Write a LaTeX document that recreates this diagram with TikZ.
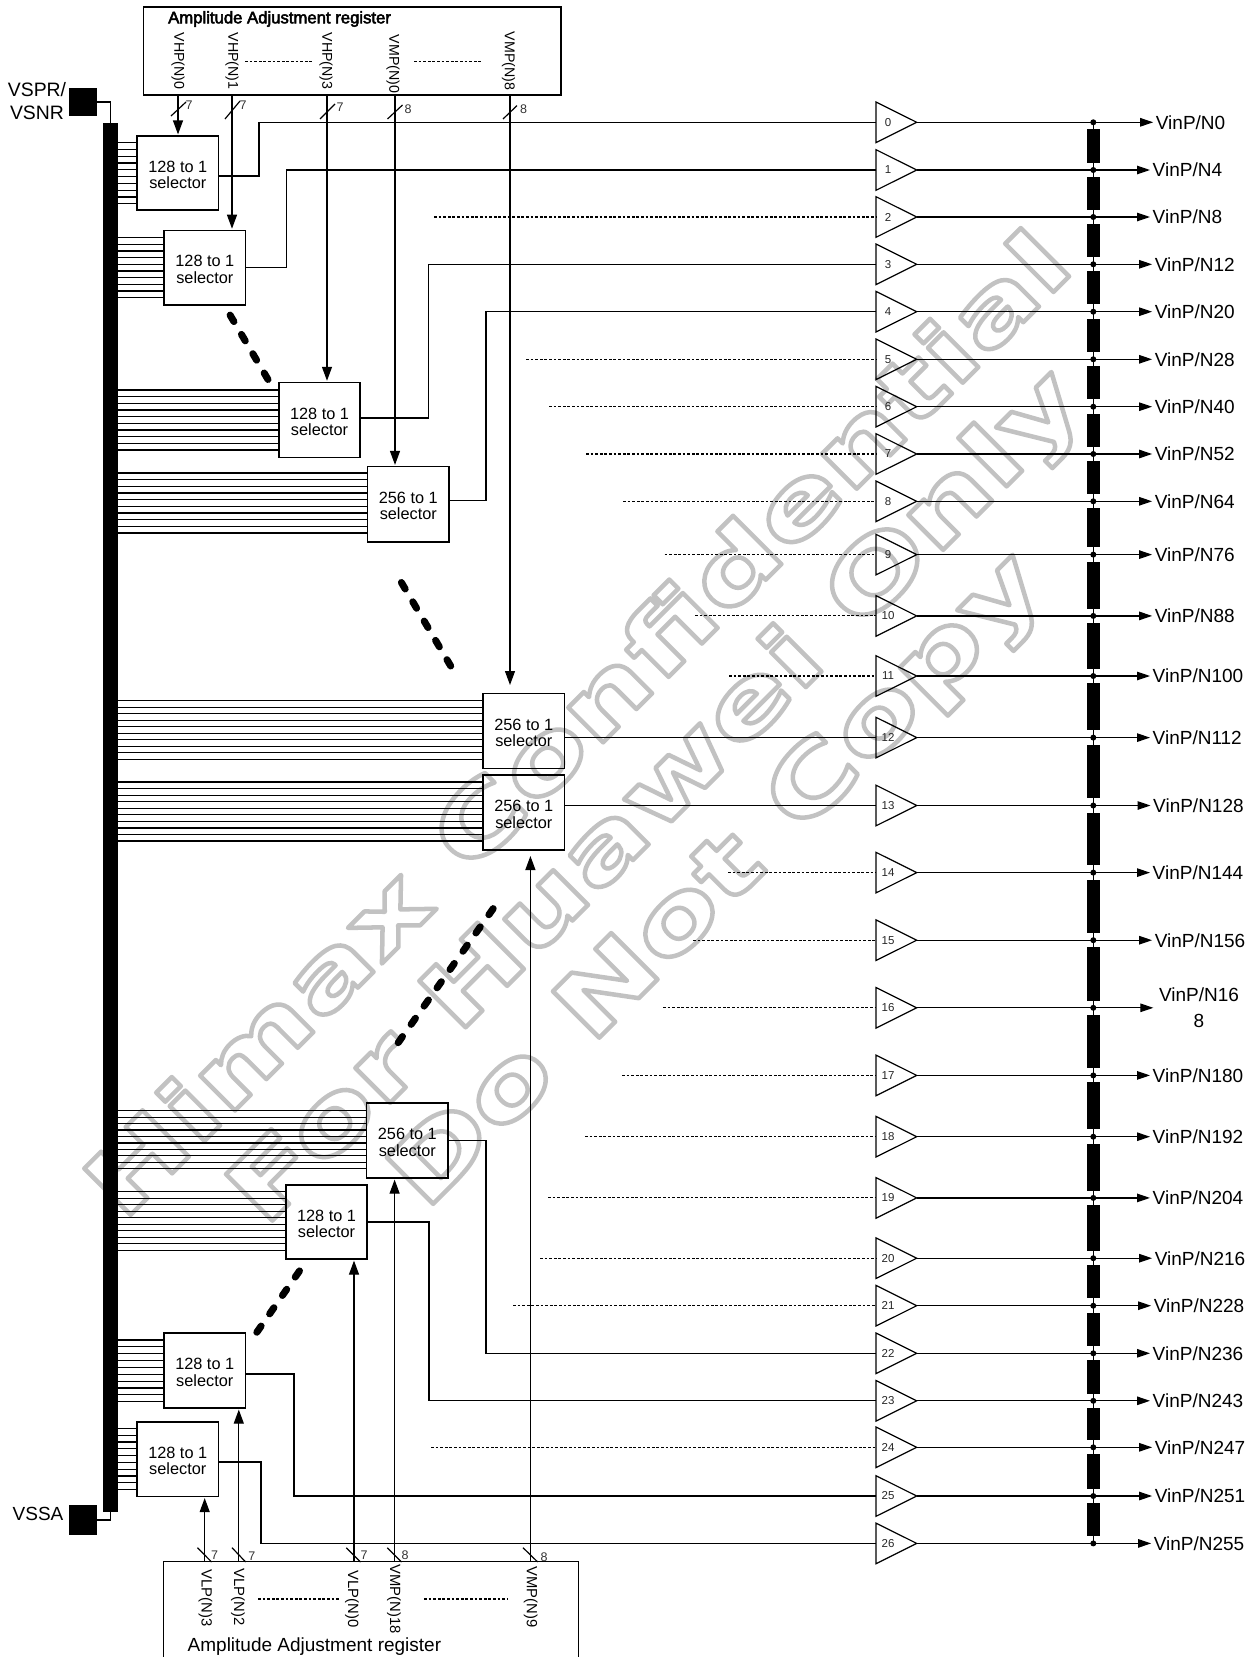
\documentclass[tikz,border=0pt]{standalone}
\usepackage{fontspec}
\setmainfont{Liberation Sans}
\newfontfamily\wmfont[FakeStretch=1.4]{DejaVu Sans}
\usetikzlibrary{arrows.meta,calc}
\newcommand{\fs}[1]{\fontsize{#1}{#1}\selectfont}
\newcommand{\hollow}[1]{\special{pdf:code 1 Tr 4.5 w 1 j 1 J 0.76 G}#1\special{pdf:code 0 Tr}}
\newcommand{\heavy}[1]{\special{pdf:code 2 Tr 0.5 w}#1\special{pdf:code 0 Tr}}
\tikzset{
  ln/.style={line width=1.2pt},
  selbox/.style={draw,line width=1.2pt,inner sep=0pt,align=center,font=\fs{16.3}},
  arr/.style={ln,-{Triangle[width=10pt,length=14pt]},shorten >=1pt},
  outarr/.style={ln,-{Triangle[width=8.5pt,length=13pt]}},
  dots/.style={line width=1.1pt,dash pattern=on 2.8pt off 1.8pt},
  bigdash/.style={line width=7pt,line cap=round,dash pattern=on 7.5pt off 14.9pt},
  vlabel/.style={rotate=-90,inner sep=0pt},
  tick/.style={font=\fs{12.5},inner sep=0pt,text=black!80},
  wm/.style={rotate=45,anchor=base,inner sep=0pt,font=\wmfont\bfseries\fs{90}},
}
\newcommand{\selbox}[6]{\node[selbox,minimum width=#4pt-#2pt,minimum height=#5pt-#3pt] (#1) at ({(#2+#4)/2},{(#3+#5)/2}) {\rule{0pt}{15pt}#6};}
\begin{document}
\begin{tikzpicture}[x=1pt,y=-1pt]
\useasboundingbox (0,0) rectangle (1255,1657);
% watermark
\node[wm] (wm1) at (599.5,746) {\hollow{Himax Confidential}};
\node[wm] (wm2) at (676,817) {\hollow{For Huawei Only}};
\node[wm] (wm3) at (737,900) {\hollow{Do Not Copy}};
% power bus
\node[fill=black,inner sep=0pt,minimum width=15pt,minimum height=1389pt] (bus) at (110.5,817.5) {};
\node[fill=black,inner sep=0pt,minimum width=28.4pt,minimum height=28pt] (vsp) at (82.8,102) {};
\node[fill=black,inner sep=0pt,minimum width=28pt,minimum height=30pt] (vss) at (83,1520) {};
\draw[ln] (vsp.east) -| (bus.north);
\draw[ln] (vss.east) -| (bus.south);
\node[inner sep=0pt,font=\fs{19.4}] (lvspr) at (37,89.5) {VSPR/};
\node[inner sep=0pt,font=\fs{19.4}] (lvsnr) at (37,112.7) {VSNR};
\node[inner sep=0pt,font=\fs{19}] (lvssa) at (38,1514) {VSSA};
% registers
\node[draw,line width=1.2pt,inner sep=0pt,minimum width=417.5pt,minimum height=88pt] (regT) at (352.3,51) {};
\node[inner sep=0pt,anchor=west,font=\fs{16.7}] (regTt) at (168,19) {\heavy{Amplitude Adjustment register}};
\foreach \n/\x/\y/\t in {a/178/61/VHP(N)0,b/232/61/VHP(N)1,c/326/61/VHP(N)3,d/393/64/VMP(N)0,e/508.6/61/VMP(N)8}
  \node[vlabel,font=\fs{14.2}] (tl\n) at (\x,\y) {\t};
\coordinate (td1a) at (245,61.3); \coordinate (td1b) at (312,61.3);
\coordinate (td2a) at (414,61.3); \coordinate (td2b) at (482,61.3);
\draw[dots] (td1a) -- (td1b); \draw[dots] (td2a) -- (td2b);
\node[inner sep=0pt,minimum width=414pt,minimum height=95pt] (regB) at (371,1609.5) {};
\draw[ln] (regB.south west) -- (regB.north west) -- (regB.north east) -- (regB.south east);
\node[inner sep=0pt,anchor=west,font=\fs{19}] (regBt) at (187.5,1646.7) {Amplitude Adjustment register};
\foreach \n/\x/\y/\t in {a/205.5/1598/VLP(N)3,b/238/1597/VLP(N)2,c/352/1599/VLP(N)0,d/394/1599/VMP(N)18,e/530.8/1597/VMP(N)9}
  \node[vlabel,font=\fs{14.8}] (bl\n) at (\x,\y) {\t};
\coordinate (bd1a) at (258,1599); \coordinate (bd1b) at (340.6,1599);
\coordinate (bd2a) at (424,1599); \coordinate (bd2b) at (508,1599);
\draw[dots] (bd1a) -- (bd1b); \draw[dots] (bd2a) -- (bd2b);
% selectors
\selbox{S1}{137}{136}{218.6}{210}{128 to 1\\selector}
\selbox{S2}{164}{230.3}{245.7}{305}{128 to 1\\selector}
\selbox{S3}{279}{382.4}{360}{457.4}{128 to 1\\selector}
\selbox{S4}{367.6}{466.5}{449}{542}{256 to 1\\selector}
\selbox{S5}{483}{693.7}{564.6}{768.3}{256 to 1\\selector}
\selbox{S6}{483}{775}{564.6}{850}{256 to 1\\selector}
\selbox{S7}{366.7}{1103}{448}{1178}{256 to 1\\selector}
\selbox{S8}{286}{1185}{367}{1259}{128 to 1\\selector}
\selbox{S9}{164}{1333}{245.5}{1408}{128 to 1\\selector}
\selbox{S10}{137}{1422}{218.5}{1496.5}{128 to 1\\selector}
% stub lines
\foreach \s/\a/\b in {S1/142.7/203.7,S2/237.7/297.7,S3/390/450,S4/473/533,S5/700.7/759.3,S6/782/841,S7/1110.7/1168.7,S8/1191.7/1250.3,S9/1340/1401.7,S10/1428.3/1489.7}
  \foreach \k in {0,...,9}
    \draw[ln] (bus.east |- 0,{\a+(\b-\a)*\k/9}) -- (\s.west |- 0,{\a+(\b-\a)*\k/9});
% register arrows, top
\draw[arr] (regT.south -| 178,0) -- (S1.north -| 178,0);
\draw[arr] (regT.south -| 232,0) -- (S2.north -| 232,0);
\draw[arr] (regT.south -| 327,0) -- (S3.north -| 327,0);
\draw[arr] (regT.south -| 395,0) -- (S4.north -| 395,0);
\coordinate (S5tip) at (510,686);
\draw[arr] (regT.south -| 510,0) -- (S5tip);
\foreach \n/\xa/\ya/\xb/\yb/\lx/\ly/\t in {a/171/116/186/102/189/105/7,b/225/119/240/101/243/105/7,c/320/119/335/104/340/107.6/7,d/387.5/119/402.5/105/408/109/8,e/503/119/517/105.6/523.5/109/8}{
  \coordinate (ts\n a) at (\xa,\ya); \coordinate (ts\n b) at (\xb,\yb);
  \draw[ln] (ts\n a) -- (ts\n b);
  \node[tick] (tt\n) at (\lx,\ly) {\t};
}
% register arrows, bottom
\draw[arr] (regB.north -| 204.7,0) -- (S10.south -| 204.7,0);
\draw[arr] (regB.north -| 238.8,0) -- (S9.south -| 238.8,0);
\draw[arr] (regB.north -| 354,0) -- (S8.south -| 354,0);
\draw[arr] (regB.north -| 394.6,0) -- (S7.south -| 394.6,0);
\coordinate (S6tip) at (530.4,855);
\draw[arr] (regB.north -| 530.4,0) -- (S6tip);
\foreach \n/\xa/\xb/\lx/\ly/\t in {a/197.5/211.6/214.7/1555/7,b/232/245.7/251.8/1555.7/7,c/346.3/360.5/364/1555/7,d/387.3/401.5/405/1555/8,e/523/537.7/544/1556.7/8}{
  \coordinate (bs\n a) at (\xa,1547.7); \coordinate (bs\n b) at (\xb,1562);
  \draw[ln] (bs\n a) -- (bs\n b);
  \node[tick] (bt\n) at (\lx,\ly) {\t};
}
% buffers and outputs
\foreach \i/\y/\lx/\t in {0/122.3/1155.7/0,1/170/1152.5/4,2/217/1152.5/8,3/264.3/1154.6/12,4/311.7/1154.6/20,5/359.3/1154.6/28,6/406.7/1154.6/40,7/454/1154.6/52,8/501.3/1154.6/64,9/554.6/1154.6/76,10/615.9/1154.6/88,11/676/1152.5/100,12/737.6/1152.5/112,13/805.5/1153/128,14/872.6/1152.5/144,15/940.2/1154.6/156,17/1075.4/1152.5/180,18/1136.7/1152.5/192,19/1197.9/1152.5/204,20/1258.2/1154.6/216,21/1305.7/1153.6/228,22/1353.3/1152.5/236,23/1400.8/1152.5/243,24/1447.3/1154.6/247,25/1496/1154.6/251,26/1543.4/1153.6/255}{
  \node[inner sep=2.5pt,anchor=west,font=\fs{19}] (L\i) at (\lx-2.5,\y) {VinP/N\t};
}
\node[inner xsep=5.5pt,inner ysep=0pt,align=center,font={\fontsize{19}{25.5}\selectfont}] (L16) at (1199,1007.8) {VinP/N16\\8};
\foreach \i/\y in {0/122.3,1/170,2/217,3/264.3,4/311.7,5/359.3,6/406.7,7/454,8/501.3,9/554.6,10/615.9,11/676,12/737.6,13/805.5,14/872.6,15/940.2,16/1007.8,17/1075.4,18/1136.7,19/1197.9,20/1258.2,21/1305.7,22/1353.3,23/1400.8,24/1447.3,25/1496,26/1543.4}{
  \coordinate (Ti\i) at (876,\y);
  \coordinate (To\i) at (916.7,\y);
  \coordinate (J\i) at (1093.3,\y);
  \draw[ln,line join=miter] (876,\y-20.3) -- (876,\y+20.3) -- (To\i) -- cycle;
  \node[inner sep=0pt,font=\fs{11.5},text=black!85] (N\i) at (888,\y) {\i};
  \draw[outarr] (To\i) -- (L\i.west);
  \fill (J\i) circle (3pt);
}
% ladder resistors
\foreach \y [remember=\y as \p (initially 122.3)] in {170,217,264.3,311.7,359.3,406.7,454,501.3,554.6,615.9,676,737.6,805.5,872.6,940.2,1007.8,1075.4,1136.7,1197.9,1258.2,1305.7,1353.3,1400.8,1447.3,1496,1543.4}{
  \draw[ln] (1093.3,\p) -- (1093.3,\y);
  \fill (1086.7,\p+7) rectangle (1100,\y-7.3);
}
% selector outputs
\draw[ln] (S1.east |- 0,176) -| (259,122.3) -- (Ti0);
\draw[ln] (S2.east |- 0,267.3) -| (286.4,170) -- (Ti1);
\draw[ln] (S3.east |- 0,418) -| (428.6,264.3) -- (Ti3);
\draw[ln] (S4.east |- 0,500.7) -| (486,311.7) -- (Ti4);
\draw[ln] (S5.east |- Ti12) -- (Ti12);
\draw[ln] (S6.east |- Ti13) -- (Ti13);
\draw[ln] (S7.east |- 0,1140.7) -| (486,1353.3) -- (Ti22);
\draw[ln] (S8.east |- 0,1222) -| (429,1400.8) -- (Ti23);
\draw[ln] (S9.east |- 0,1374) -| (294,1496) -- (Ti25);
\draw[ln] (S10.east |- 0,1462) -| (261,1543.4) -- (Ti26);
% dotted inputs
\foreach \i/\x in {2/434,5/526,6/549,7/586,8/623,9/664.5,10/695,11/729,14/728,15/693,16/663,17/622,18/585,19/548,20/540,21/513,24/431}{
  \coordinate (Ds\i) at (\x,0);
  \draw[dots] (Ds\i |- Ti\i) -- (Ti\i);
}
% continuation marks
\coordinate (g1a) at (230.1,315.1); \coordinate (g1b) at (268,379.5);
\coordinate (g2a) at (401.4,582.5); \coordinate (g2b) at (450.7,666);
\coordinate (g3a) at (493.2,908.6); \coordinate (g3b) at (397.7,1043.3);
\coordinate (g4a) at (299.5,1270.9); \coordinate (g4b) at (256.8,1332.3);
\draw[bigdash] (g1a) -- (g1b);
\draw[bigdash] (g2a) -- (g2b);
\draw[bigdash] (g3a) -- (g3b);
\draw[bigdash] (g4a) -- (g4b);
\end{tikzpicture}
\end{document}
